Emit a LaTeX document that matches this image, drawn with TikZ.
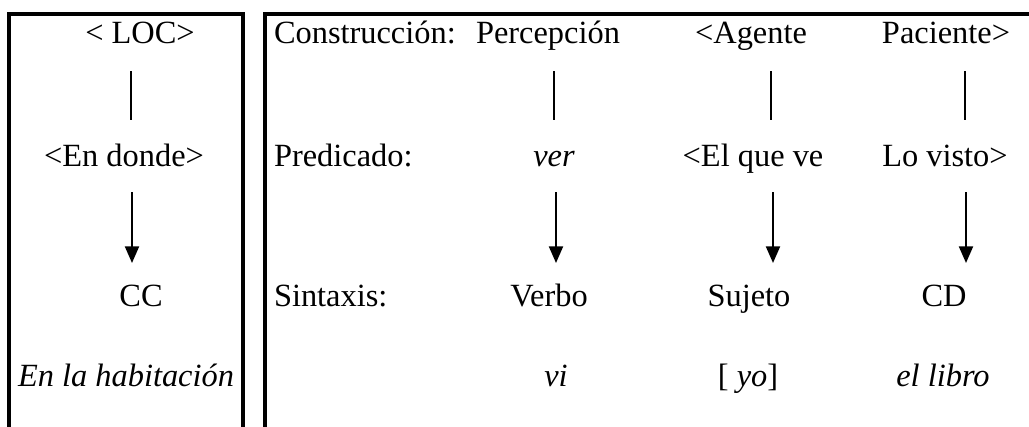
\documentclass[tikz,border=0pt]{standalone}
\usepackage{fontspec}
\setmainfont{Liberation Serif}
\usetikzlibrary{arrows.meta}
\tikzset{
  lbl/.style={inner sep=0pt,outer sep=0pt,anchor=base,font=\fontsize{24.3}{29}\selectfont},
  lblw/.style={lbl,anchor=base west},
  frame/.style={line width=3pt},
  conn/.style={line width=1.6pt},
  arr/.style={conn,-{Triangle[width=10.5pt,length=12.5pt]}}
}
\begin{document}
\begin{tikzpicture}[x=0.75pt,y=-0.75pt]
\useasboundingbox (0,0) rectangle (1029,426);
% frames
\draw[frame] (9,428) -- (9,14) -- (243,14) -- (243,428);
\draw[frame] (265,428) -- (265,14) -- (1031,14);
% left column
\node[lbl] (loc) at (140,43) {< LOC>};
\node[lbl] (donde) at (124,166) {<En donde>};
\node[lbl] (cc) at (141,306) {CC};
\node[lbl] (hab) at (126,386) {\itshape En la habitación};
% right box labels
\node[lblw] (cons) at (274,43) {Construcción:};
\node[lblw] (pred) at (274,166) {Predicado:};
\node[lblw] (sint) at (274,306) {Sintaxis:};
% row 1
\node[lbl] (perc) at (548,43) {Percepción};
\node[lbl] (agen) at (751,43) {<Agente};
\node[lbl] (paci) at (946,43) {Paciente>};
% row 2
\node[lbl] (ver) at (554,166) {\itshape ver};
\node[lbl] (elque) at (753,166) {<El que ve};
\node[lbl] (visto) at (945,166) {Lo visto>};
% row 3
\node[lbl] (verbo) at (549,306) {Verbo};
\node[lbl] (suj) at (749,306) {Sujeto};
\node[lbl] (cd) at (944,306) {CD};
% row 4
\node[lbl] (vi) at (556,386) {\itshape vi};
\node[lbl] (yo) at (748,386) {[ \textit{yo}]};
\node[lbl] (libro) at (943,386) {\itshape el libro};
% connector end points
\coordinate (l1a) at (131,71);  \coordinate (l1b) at (131,120);
\coordinate (l2a) at (554,71);  \coordinate (l2b) at (554,120);
\coordinate (l3a) at (771,71);  \coordinate (l3b) at (771,120);
\coordinate (l4a) at (965,71);  \coordinate (l4b) at (965,120);
\coordinate (a1a) at (132,192); \coordinate (a1b) at (132,263);
\coordinate (a2a) at (556,192); \coordinate (a2b) at (556,263);
\coordinate (a3a) at (773,192); \coordinate (a3b) at (773,263);
\coordinate (a4a) at (966,192); \coordinate (a4b) at (966,263);
\draw[conn] (l1a) -- (l1b);
\draw[conn] (l2a) -- (l2b);
\draw[conn] (l3a) -- (l3b);
\draw[conn] (l4a) -- (l4b);
\draw[arr] (a1a) -- (a1b);
\draw[arr] (a2a) -- (a2b);
\draw[arr] (a3a) -- (a3b);
\draw[arr] (a4a) -- (a4b);
\end{tikzpicture}
\end{document}
